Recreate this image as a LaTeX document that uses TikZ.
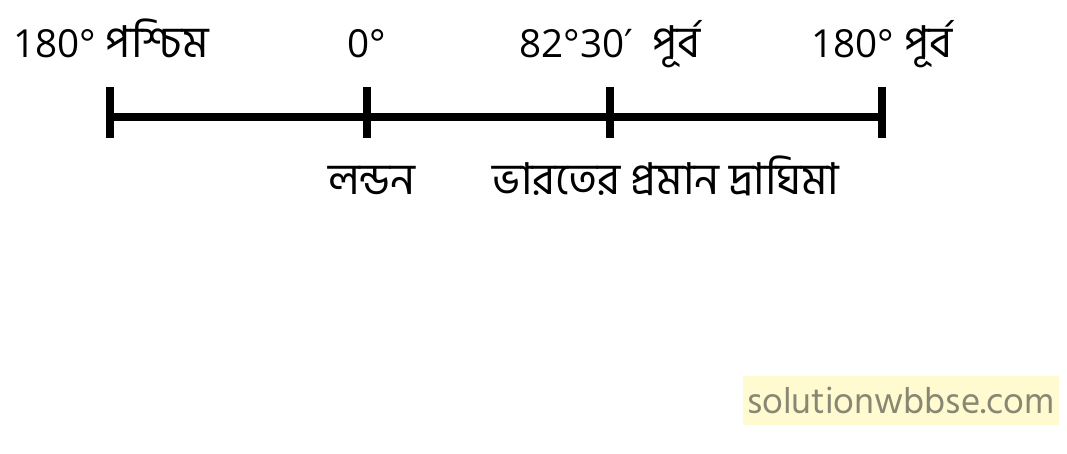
\documentclass[tikz,border=0pt]{standalone}
\usepackage{fontspec}
\setmainfont{Open Sans}
\newfontfamily\bn[Script=Bengali]{Hind Siliguri}
\newfontfamily\sym{DejaVu Sans}
\usetikzlibrary{calc}
\definecolor{markbg}{RGB}{255,250,208}
\definecolor{markfg}{RGB}{135,135,115}

\begin{document}
\begin{tikzpicture}[x=0.02cm, y=-0.02cm, font=\fontsize{22}{26}\selectfont,
	axis/.style={line width=5pt},
	tick/.style={line width=4.5pt},
	label/.style={anchor=base, inner sep=0pt},
	bnlabel/.style={label, font=\fontsize{25}{30}\selectfont\bn},
	watermark/.style={fill=markbg, text=markfg, inner sep=0pt, minimum width=6.34cm, minimum height=0.98cm, font=\fontsize{21}{25}\selectfont\bn}]
	\useasboundingbox (0,0) rectangle (1067,453);
	
	\coordinate (west) at (110,117);
	\coordinate (london) at (367,117);
	\coordinate (india) at (610,117);
	\coordinate (east) at (882,117);
	
	\draw[axis] (west) -- (east);
	\foreach \p in {west,london,india,east}
		\draw[tick] ($(\p)+(0,-30)$) -- ($(\p)+(0,21)$);
	
	\node[label] (westlab) at (111,57) {180° {\fontsize{25}{30}\selectfont\bn পশ্চিম}};
	\node[label] (londonlab) at (367,57) {0°};
	\node[label] (indialab) at (610,57) {82°30{\sym ′}\enspace{\fontsize{25}{30}\selectfont\bn পূর্ব}};
	\node[label] (eastlab) at (882,57) {180° {\fontsize{25}{30}\selectfont\bn পূর্ব}};
	
	\node[bnlabel] (londonname) at (372,194) {লন্ডন};
	\node[bnlabel] (indianame) at (666,194) {ভারতের প্রমান দ্রাঘিমা};
	
	\node[watermark] (site) at (901,400) {solutionwbbse.com};
\end{tikzpicture}
\end{document}
